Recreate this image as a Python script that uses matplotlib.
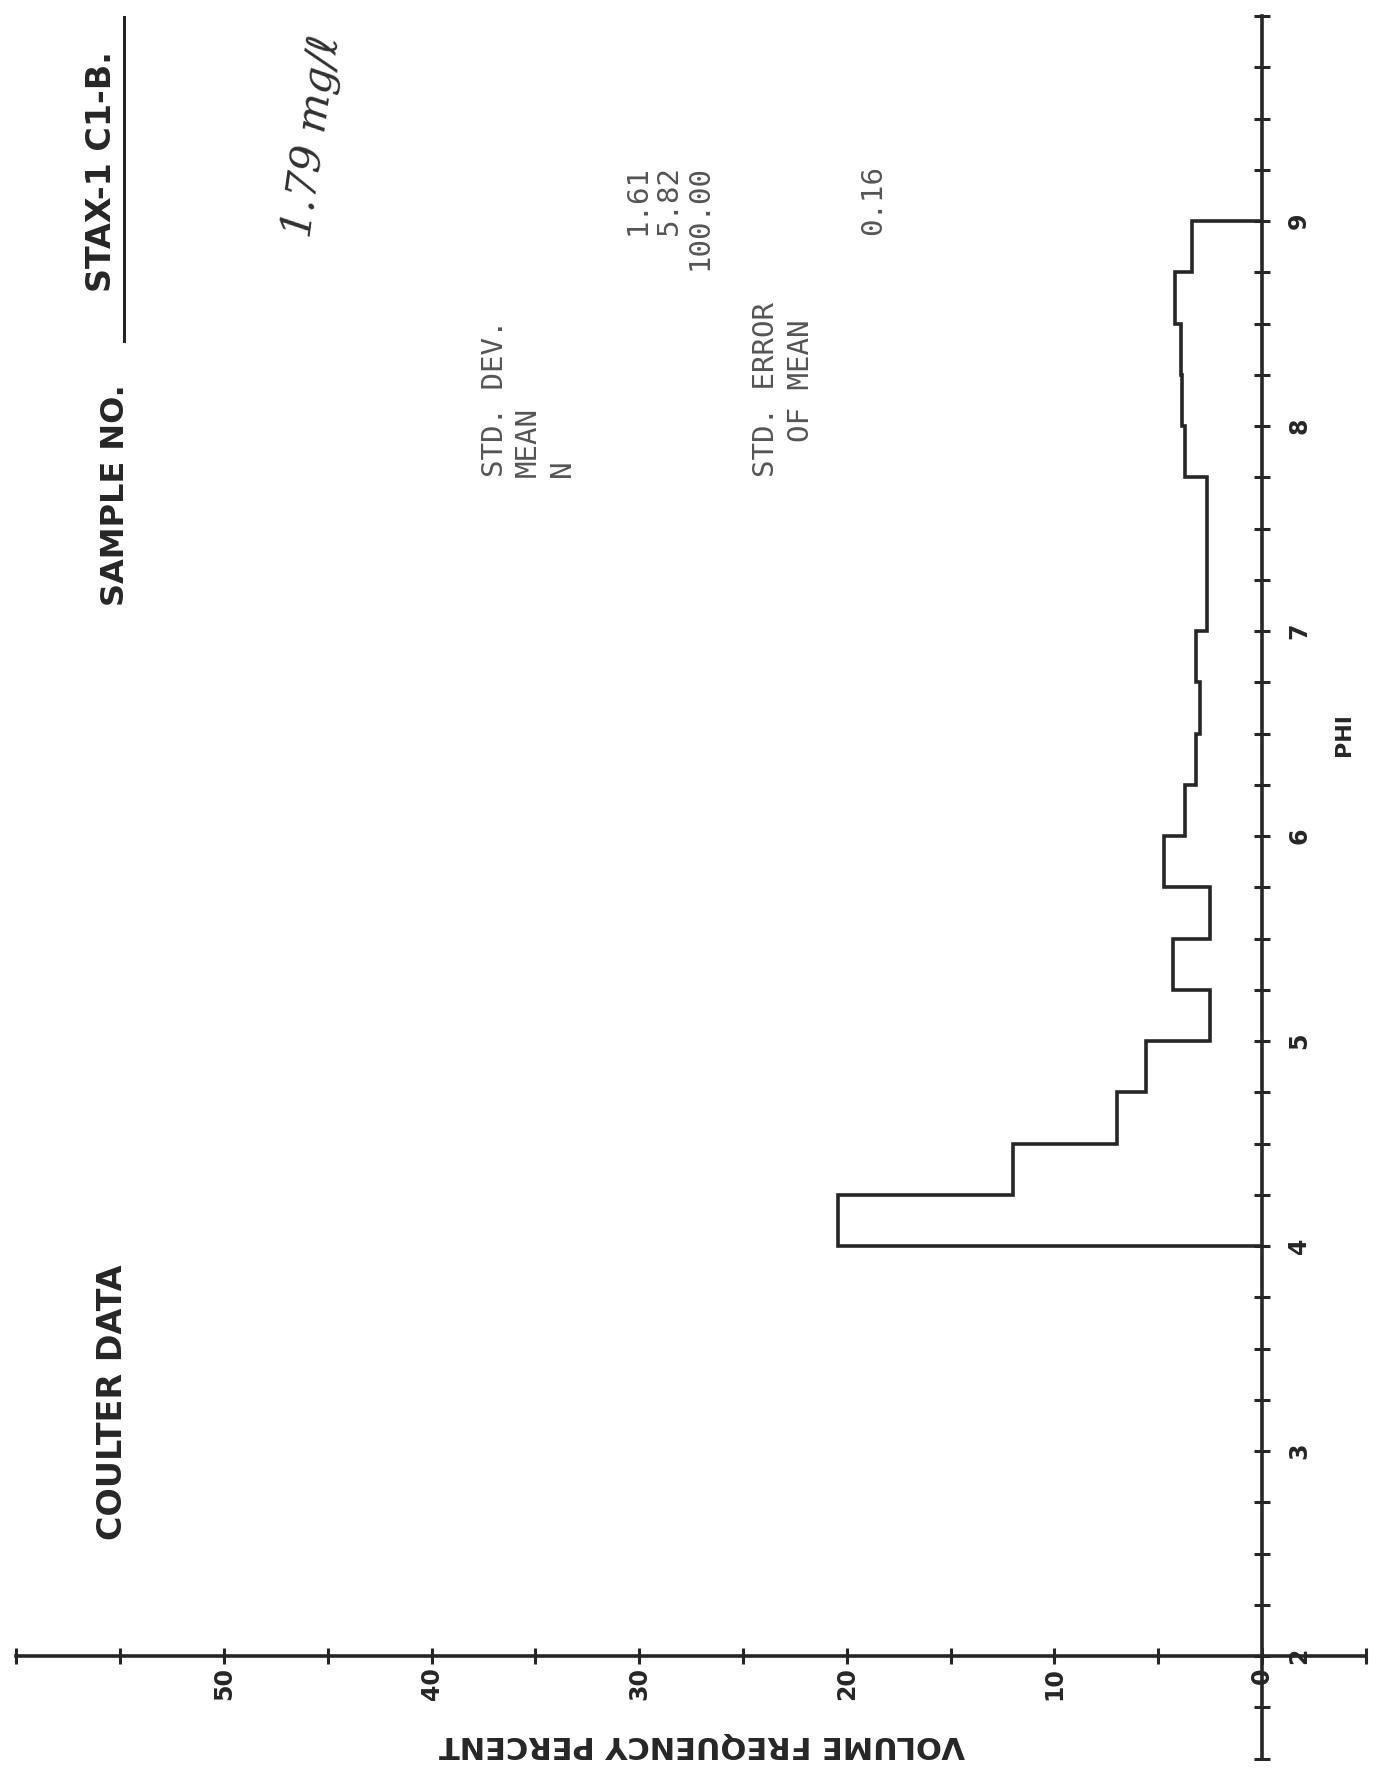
import matplotlib.pyplot as plt
from matplotlib.ticker import MultipleLocator

## coulter counter run, sample STAX-1 C1-B, volume frequency by phi class
phi_edges = [4.0, 4.25, 4.5, 4.75, 5.0, 5.25, 5.5, 5.75, 6.0, 6.25, 6.5,
             6.75, 7.0, 7.25, 7.5, 7.75, 8.0, 8.25, 8.5, 8.75, 9.0]
vol_pct = [20.4, 12.0, 7.0, 5.6, 2.5, 4.3, 2.5, 4.7, 3.7, 3.2,
           3.0, 3.2, 2.65, 2.65, 2.65, 3.7, 3.85, 3.9, 4.2, 3.35]

phi_ticks = [2, 3, 4, 5, 6, 7, 8, 9, 10]
phi_labels = ['2', '3', '4', '5', '6', '7', '8', '9', '']
pct_ticks = [0, 10, 20, 30, 40, 50, 60]
pct_labels = ['0', '10', '20', '30', '40', '50', '']

stat_names = ['STD. DEV.', 'MEAN', 'N']
stat_vals = ['1.61', '5.82', '100.00']
err_names = ['STD. ERROR', '  OF MEAN']
err_val = '0.16'

W, H = 1392, 1782
ink = '#262626'
gray = '#555555'

fig = plt.figure(figsize=(W / 100, H / 100), dpi=100)
fig.patch.set_facecolor('white')
ax = fig.add_axes([0, 0, 1, 1])

# sheet is turned sideways: phi runs up the right side, percent grows leftwards
x0, y0 = 1262, 1656          # pixel spot of (0 %, phi 2)
px_pct, px_phi = 20.76, 205.0
ax.set_xlim(x0 / px_pct, (x0 - W) / px_pct)
ax.set_ylim(2 - (H - y0) / px_phi, 2 + y0 / px_phi)

ax.stairs(vol_pct, phi_edges, orientation='horizontal', baseline=0,
          color=ink, lw=2.6)

# axes drawn as crossing lines with plus-style ticks
for side in ['top', 'left']:
    ax.spines[side].set_visible(False)
ax.spines['right'].set_position(('data', 0))
ax.spines['right'].set_bounds(1.5, 10)
ax.spines['bottom'].set_position(('data', 2))
ax.spines['bottom'].set_bounds(-5, 60)
for side in ['right', 'bottom']:
    ax.spines[side].set_color(ink)
    ax.spines[side].set_linewidth(2.6)

ax.yaxis.tick_right()
ax.set_yticks(phi_ticks, labels=phi_labels)
ax.yaxis.set_minor_locator(MultipleLocator(0.25))
ax.set_xticks(pct_ticks, labels=pct_labels)
ax.xaxis.set_minor_locator(MultipleLocator(5))
ax.tick_params(which='both', direction='inout', length=12, width=2.2, color=ink)
ax.tick_params(axis='y', pad=12)
ax.tick_params(axis='x', pad=2)
for lab in ax.get_yticklabels():
    lab.set(rotation=90, va='center', fontsize=17, fontweight='bold', color=ink)
for lab in ax.get_xticklabels():
    lab.set(rotation=90, fontsize=17, fontweight='bold', color=ink)


def px(x, y):
    return x / W, 1 - y / H


fig.text(*px(1344, 735), 'PHI', rotation=90, ha='center', va='center',
         fontsize=16, fontweight='bold', color=ink)
fig.text(*px(702, 1745), 'VOLUME FREQUENCY PERCENT', rotation=180,
         ha='center', va='center', fontsize=22, fontweight='bold', color=ink)

## header
fig.text(*px(113, 1402), 'COULTER DATA', rotation=90, ha='center',
         va='center', fontsize=24, fontweight='bold', color=ink)
fig.text(*px(115, 495), 'SAMPLE NO.', rotation=90, ha='center',
         va='center', fontsize=23, fontweight='bold', color=ink)
fig.text(*px(102, 172), 'STAX-1 C1-B.', rotation=90, ha='center',
         va='center', fontsize=24, fontweight='bold', color=ink)
fig.lines.append(plt.Line2D([124 / W, 124 / W], [1 - 17 / H, 1 - 341 / H],
                            transform=fig.transFigure, color=ink, lw=2.2))
fig.text(*px(312, 136), '1.79 mg/\u2113', rotation=82, ha='center',
         va='center', fontsize=30, family=['DejaVu Serif', 'DejaVu Sans'],
         style='italic', color='#303030')

## summary statistics
mono = dict(rotation=90, ha='center', family='DejaVu Sans Mono',
            fontsize=21, color=gray)
for x, s in zip([495, 528, 562], stat_names):
    fig.text(*px(x, 477), s, va='bottom', **mono)
for x, s in zip([638, 669, 700], stat_vals):
    fig.text(*px(x, 165), s, va='top', **mono)
for x, s in zip([766, 801], err_names):
    fig.text(*px(x, 477), s, va='bottom', **mono)
fig.text(*px(873, 165), err_val, va='top', **mono)

fig.savefig('out.png', dpi=100, facecolor='white')
